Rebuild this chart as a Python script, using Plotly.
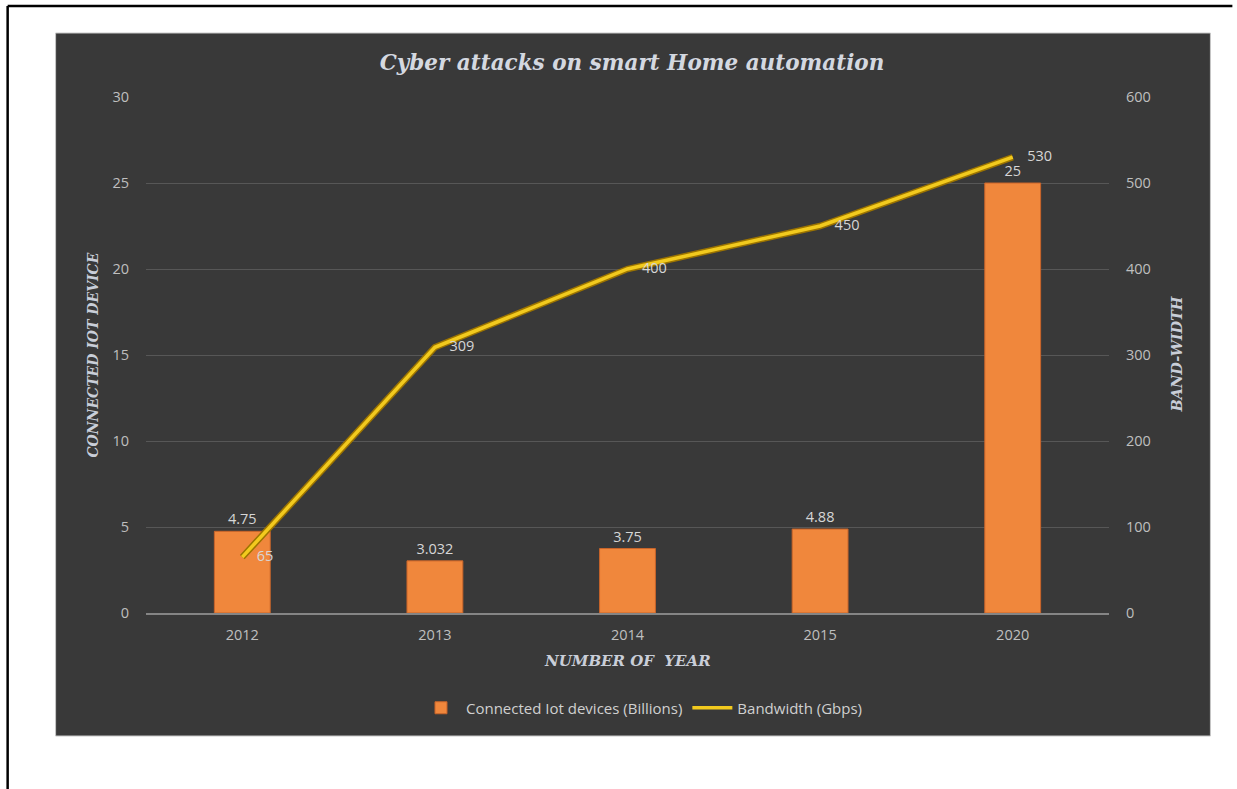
import plotly.graph_objects as go

years = ["2012", "2013", "2014", "2015", "2020"]
devices = [4.75, 3.032, 3.75, 4.88, 25]
device_labels = ["4.75", "3.032", "3.75", "4.88", "25"]
bandwidth = [65, 309, 400, 450, 530]
bandwidth_labels = ["65", "309", "400", "450", "530"]

W, H = 1237, 789
L, R, T, B = 145.5, 1109.5, 97, 613
pw, ph = R - L, B - T
def px(x):
    return (x - L) / pw
def py(y):
    return (B - y) / ph

label_color = "#D6D6D6"
tick_color = "#BFBFBF"
sans = "Open Sans"
serif = "DejaVu Serif"

fig = go.Figure()
fig.add_trace(go.Bar(
    x=years, y=devices, name="Connected Iot devices (Billions)",
    marker=dict(color="#F0873C", line=dict(color="#C8642A", width=1)),
    width=0.29,
    text=device_labels, textposition="outside", cliponaxis=False,
    textfont=dict(color=label_color, size=14.5, family=sans),
))
fig.add_trace(go.Scatter(
    x=years, y=bandwidth, yaxis="y2", mode="lines", showlegend=False,
    line=dict(color="#9C7400", width=6.5), hoverinfo="skip",
))
fig.add_trace(go.Scatter(
    x=years, y=bandwidth, yaxis="y2", mode="lines+text",
    name="Bandwidth (Gbps)",
    line=dict(color="#F2CA1E", width=3.5),
    text=bandwidth_labels, textposition="middle right", cliponaxis=False,
    texttemplate="\u2003%{text}",
    textfont=dict(color=label_color, size=14.5, family=sans),
))

shapes = [
    # dark panel
    dict(type="rect", xref="paper", yref="paper", x0=px(55), x1=px(1211),
         y0=py(736), y1=py(33), fillcolor="#393939",
         line=dict(color="#C8C8C8", width=1), layer="below"),
    # page border lines
    dict(type="line", xref="paper", yref="paper", x0=px(7), x1=px(1233),
         y0=py(6), y1=py(6), line=dict(color="black", width=2.5)),
    dict(type="line", xref="paper", yref="paper", x0=px(7), x1=px(7),
         y0=py(6), y1=py(795), line=dict(color="black", width=2.5)),
]

annotations = [
    dict(text="<b><i>CONNECTED IOT DEVICE</i></b>", xref="paper", yref="paper",
         x=px(92), y=py(355), textangle=-90, showarrow=False,
         xanchor="center", yanchor="middle",
         font=dict(family=serif, size=14, color="#C9CED8")),
    dict(text="<b><i>BAND-WIDTH</i></b>", xref="paper", yref="paper",
         x=px(1177), y=py(354), textangle=-90, showarrow=False,
         xanchor="center", yanchor="middle",
         font=dict(family=serif, size=14.5, color="#C9CED8")),
    dict(text="<b><i>NUMBER OF  YEAR</i></b>", xref="paper", yref="paper",
         x=px(627), y=py(661), showarrow=False,
         xanchor="center", yanchor="middle",
         font=dict(family=serif, size=15, color="#C9CED8")),
]

fig.update_layout(
    width=W, height=H,
    margin=dict(l=L, r=W - R, t=T, b=H - B),
    paper_bgcolor="white", plot_bgcolor="rgba(0,0,0,0)",
    title=dict(text="<b><i>Cyber attacks on smart Home automation</i></b>",
               x=632 / W, xanchor="center",
               y=1 - 62 / H, yanchor="middle", yref="container",
               font=dict(family=serif, size=21.5, color="#D4D8E0")),
    shapes=shapes, annotations=annotations,
    showlegend=True,
    legend=dict(orientation="h", x=px(642), y=py(708), xanchor="center",
                yanchor="middle", bgcolor="rgba(0,0,0,0)",
                font=dict(family=sans, size=15, color="#D0D0D0"),
                itemwidth=40, traceorder="normal"),
    xaxis=dict(showgrid=False, showline=True, linecolor="#858585", linewidth=1.5,
               tickfont=dict(family=sans, size=14.5, color=tick_color),
               ticks="", ticklabelstandoff=8, fixedrange=True),
    yaxis=dict(range=[0, 30], dtick=5, showgrid=True, gridcolor="#575757",
               gridwidth=1, zeroline=False, showline=False,
               tickfont=dict(family=sans, size=14.5, color=tick_color),
               ticklabelstandoff=16),
    yaxis2=dict(range=[0, 600], dtick=100, overlaying="y", side="right",
                showgrid=False, zeroline=False, showline=False,
                tickfont=dict(family=sans, size=14.5, color=tick_color),
                ticklabelstandoff=16),
)

# remove the default page margin so the figure sits at the window's top-left
fig.write_html("out.html", config={"displayModeBar": False},
               post_script="document.body.style.margin='0';document.body.style.overflow='hidden';")
